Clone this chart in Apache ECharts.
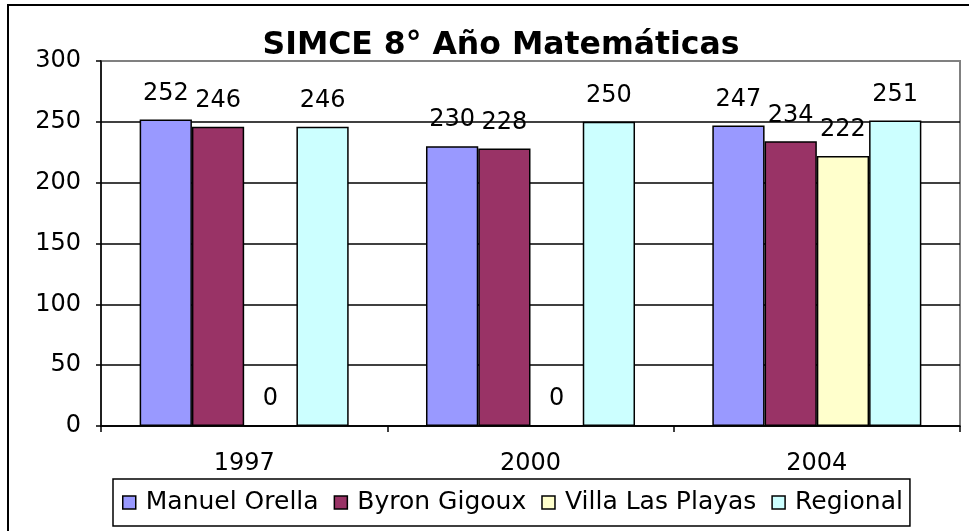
<!DOCTYPE html>
<html>
<head>
<meta charset="utf-8">
<script src="https://cdn.jsdelivr.net/npm/echarts@6/dist/echarts.min.js"></script>
<style>
  html, body { margin: 0; padding: 0; background: #fff; }
  #main { width: 969px; height: 531px; }
</style>
</head>
<body>
<div id="main"></div>
<script>
// datos
var years = ["1997", "2000", "2004"];
var manuelOrella = [252, 230, 247];
var byronGigoux = [246, 228, 234];
var villaLasPlayas = [0, 0, 222];
var regional = [246, 250, 251];
var yTicks = [0, 50, 100, 150, 200, 250, 300];

var chart = echarts.init(document.getElementById("main"));
var font = "DejaVu Sans, Verdana, sans-serif";

function serie(name, data, color) {
  return {
    name: name,
    type: "bar",
    data: data,
    barGap: "0%",
    barCategoryGap: "27%",
    itemStyle: { color: color, borderColor: "#000", borderWidth: 1.5 },
    label: {
      show: true,
      position: "top",
      distance: 14,
      color: "#000",
      fontFamily: font,
      fontSize: 24
    }
  };
}

var option = {
  animation: false,
  backgroundColor: "#fff",
  title: {
    text: "SIMCE 8° Año Matemáticas",
    left: 496,
    textAlign: "center",
    top: 25,
    textStyle: { fontFamily: font, fontWeight: "bold", fontSize: 31.5, color: "#000" }
  },
  // marco exterior (derecha/abajo quedan fuera de la imagen)
  graphic: [{
    type: "rect",
    shape: { x: 8, y: 5, width: 1000, height: 600 },
    style: { fill: "none", stroke: "#000", lineWidth: 2 },
    z: -1
  }],
  legend: {
    top: 479,
    left: 113,
    itemWidth: 13,
    itemHeight: 13,
    itemGap: 15,
    padding: [11, 7, 11, 9],
    borderColor: "#000",
    borderWidth: 1.5,
    icon: "rect",
    textStyle: { fontFamily: font, fontSize: 25, color: "#000", padding: [0, 0, 0, 5] },
    data: ["Manuel Orella", "Byron Gigoux", "Villa Las Playas", "Regional"],
    itemStyle: { borderColor: "#000", borderWidth: 1.5 }
  },
  grid: { left: 101, right: 9, top: 61, bottom: 105, show: true, borderColor: "#808080", borderWidth: 2 },
  xAxis: {
    type: "category",
    data: years,
    axisLine: { lineStyle: { color: "#000", width: 1.5 } },
    axisTick: { show: true, length: 6, lineStyle: { color: "#000", width: 1.5 } },
    axisLabel: { fontFamily: font, fontSize: 24, color: "#000", margin: 26 }
  },
  yAxis: {
    type: "value",
    min: yTicks[0],
    max: yTicks[yTicks.length - 1],
    interval: 50,
    axisLine: { show: true, lineStyle: { color: "#000", width: 1.5 } },
    axisTick: { show: true, length: 5, lineStyle: { color: "#000", width: 1.5 } },
    axisLabel: { fontFamily: font, fontSize: 24, color: "#000", margin: 20 },
    splitLine: {
      show: true,
      lineStyle: { color: ["#000", "#000", "#000", "#000", "#000", "#000", "#808080"], width: 1.5 }
    }
  },
  series: [
    serie("Manuel Orella", manuelOrella, "#9999FF"),
    serie("Byron Gigoux", byronGigoux, "#993366"),
    serie("Villa Las Playas", villaLasPlayas, "#FFFFCC"),
    serie("Regional", regional, "#CCFFFF")
  ]
};

chart.setOption(option);
</script>
</body>
</html>
